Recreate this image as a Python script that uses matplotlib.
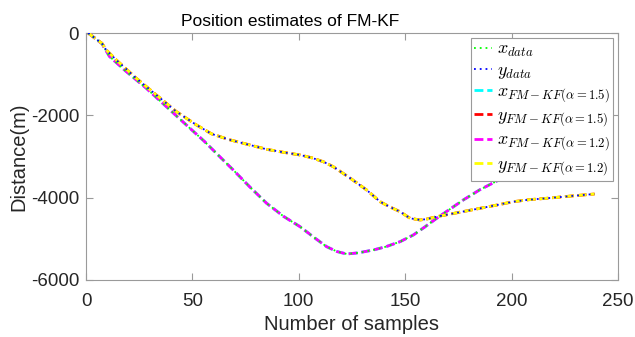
import matplotlib
matplotlib.use("Agg")
import matplotlib.pyplot as plt

# ---- data ----
# x-coordinate track (sample index, distance in m)
x_samples = [1, 4.7, 7.5, 11, 18.8, 28.2, 37.6, 47, 55.6, 62, 69.2, 77, 84.9, 93,
             100.6, 107, 113.1, 118, 122.5, 128, 135, 141, 147.6, 153.8, 159, 164.8,
             171, 177.3, 185, 197, 210, 225, 239]
x_data = [0, -146, -260, -567, -931, -1336, -1781, -2227, -2631, -2960, -3328,
          -3740, -4137, -4460, -4705, -4960, -5191, -5310, -5368, -5340, -5271,
          -5190, -5069, -4907, -4720, -4501, -4280, -4056, -3810, -3490, -3150,
          -2800, -2480]
x_fm15 = list(x_data)
x_fm12 = list(x_data)

# y-coordinate track
y_samples = [1, 4.7, 7.5, 9.4, 14.1, 23.5, 32.9, 42.3, 51.7, 59, 67.3, 77,
             84.9, 93, 100.6, 106, 111.5, 116.2, 124, 131.9, 138.2, 143, 147.6,
             152.3, 157, 160, 164.8, 175, 185.2, 193, 200.8, 208, 216.5, 228, 239]
y_data = [0, -146, -250, -405, -648, -1093, -1498, -1903, -2227, -2450, -2591,
          -2720, -2825, -2900, -2963, -3030, -3126, -3248, -3520, -3814,
          -4098, -4230, -4341, -4501, -4542, -4520, -4462, -4360, -4258, -4180,
          -4098, -4050, -4015, -3960, -3911]
y_fm15 = list(y_data)
y_fm12 = list(y_data)

legend_labels = [r"$x_{data}$", r"$y_{data}$",
                 r"$x_{FM-KF(\alpha=1.5)}$", r"$y_{FM-KF(\alpha=1.5)}$",
                 r"$x_{FM-KF(\alpha=1.2)}$", r"$y_{FM-KF(\alpha=1.2)}$"]
x_ticks = [0, 50, 100, 150, 200, 250]
y_ticks = [-6000, -4000, -2000, 0]

# ---- style ----
plt.rcParams["font.family"] = ["Liberation Sans", "DejaVu Sans"]
plt.rcParams["mathtext.fontset"] = "cm"
text_col = "#262626"
axis_col = "#9a9a9a"

fig = plt.figure(figsize=(6.35, 3.37), dpi=100)
ax = fig.add_axes([86 / 635, 1 - 280 / 337, (618 - 86) / 635, (280 - 33) / 337])

lw = 2.0
dot = (0, (1.0, 2.2))
dash = (0, (3.2, 1.4))
ax.plot(x_samples, x_data, linestyle=dot, color="#00ff00", lw=1.3, zorder=4, label=legend_labels[0])
ax.plot(y_samples, y_data, linestyle=dot, color="#0000ff", lw=1.3, zorder=4, label=legend_labels[1])
ax.plot(x_samples, x_fm15, linestyle=dash, color="#00ffff", lw=lw, zorder=2, label=legend_labels[2])
ax.plot(y_samples, y_fm15, linestyle=dash, color="#ff0000", lw=lw, zorder=2, label=legend_labels[3])
ax.plot(x_samples, x_fm12, linestyle=dash, color="#ff00ff", lw=lw, zorder=3, label=legend_labels[4])
ax.plot(y_samples, y_fm12, linestyle=dash, color="#ffff00", lw=lw, zorder=3, label=legend_labels[5])

ax.set_xlim(0, 250)
ax.set_ylim(-6000, 0)
ax.set_xticks(x_ticks)
ax.set_yticks(y_ticks)
ax.set_xticklabels([str(t) for t in x_ticks])
ax.set_yticklabels([str(t) for t in y_ticks])

for s in ax.spines.values():
    s.set_color(axis_col)
    s.set_linewidth(0.8)
ax.tick_params(direction="in", length=5, width=0.8, color=axis_col,
               labelcolor=text_col, labelsize=13.5, top=True, right=True)
ax.tick_params(axis="x", pad=9)
ax.tick_params(axis="y", pad=5)

ax.set_xlabel("Number of samples", fontsize=14.5, color=text_col, labelpad=4)
ax.set_ylabel("Distance(m)", fontsize=14.5, color=text_col, labelpad=2)
ax.set_title("Position estimates of FM-KF", fontsize=12.5, color="black",
             pad=5, x=(290 - 86) / 532)

leg = ax.legend(loc="upper right", fontsize=13, frameon=True, fancybox=False,
                edgecolor=axis_col, framealpha=1, handlelength=0.95,
                handletextpad=0.3, labelspacing=0.15, borderpad=0.2,
                borderaxespad=0.25)
leg.get_frame().set_linewidth(0.8)

fig.savefig("out.png", dpi=100)
